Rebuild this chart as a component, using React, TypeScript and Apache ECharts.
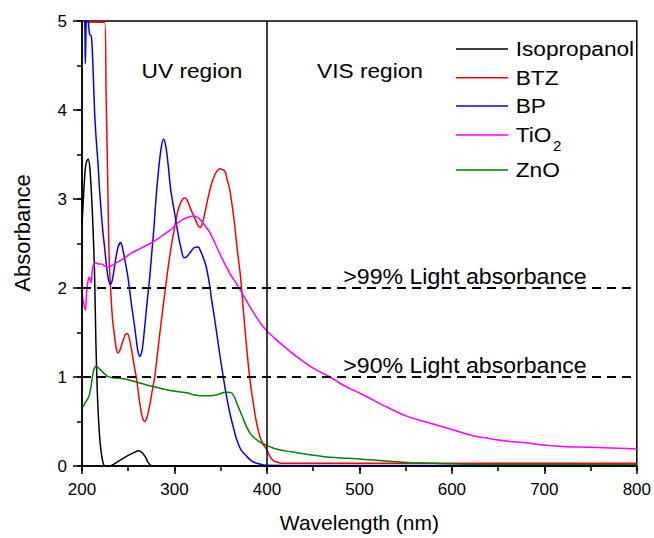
import React, { useEffect, useRef } from "react";
import * as echarts from "echarts";

const xTicks = [200, 300, 400, 500, 600, 700, 800];
const seriesNames = ["Isopropanol", "BTZ", "BP", "TiO2", "ZnO"];
const seriesColors = ["#000000", "#ff0000", "#0000ff", "#ff00ff", "#008000"];

const isopropanol: number[][] = [
  [200, 2.7], [202, 3.1], [204, 3.38], [206.5, 3.45], [208.5, 3.35], [210.5, 3.0], [212, 2.65],
  [213.5, 2.2], [215, 1.4], [216.5, 0.85], [218, 0.5], [220, 0.22], [222.5, 0.05], [225, 0.0],
  [230, 0.0], [236, 0.03], [242, 0.07], [250, 0.12], [256, 0.15], [261, 0.17], [265, 0.15],
  [268, 0.11], [271, 0.05], [274, 0.01], [280, 0.0], [300, 0.0], [400, 0.0], [800, 0.0],
];

const btz: number[][] = [
  [204.5, 4.985], [224.5, 4.985], [226, 4.2], [227.5, 3.4], [228.5, 2.75], [229.5, 2.3], [231, 1.98],
  [233, 1.65], [235.3, 1.45], [237, 1.32], [239, 1.27], [241, 1.3], [244, 1.4], [247, 1.48],
  [249, 1.49], [251, 1.44], [254, 1.28], [256.5, 1.12], [258.7, 1.0], [262, 0.74], [265, 0.56],
  [267.8, 0.5], [270, 0.54], [273, 0.67], [276, 0.85], [278.6, 1.0], [282, 1.3], [286, 1.65],
  [289.4, 1.93], [293, 2.22], [297, 2.5], [300.2, 2.68], [303, 2.84], [306, 2.94], [309, 3.0],
  [311.4, 3.01], [314, 2.98], [317, 2.9], [320.3, 2.82], [323, 2.76], [325.5, 2.7], [327.6, 2.68],
  [330, 2.72], [333, 2.85], [336, 3.0], [339, 3.13], [342, 3.23], [345, 3.3], [349.2, 3.34],
  [352, 3.33], [354.6, 3.31], [357, 3.22], [360, 3.09], [363, 2.88], [365.4, 2.68], [368, 2.42],
  [371, 2.17], [372.5, 2.0], [374.5, 1.75], [377, 1.45], [380, 1.12], [382.5, 0.9], [385.2, 0.71],
  [388.5, 0.5], [392.4, 0.33], [396, 0.24], [399.6, 0.19], [403, 0.11], [406.8, 0.06], [412, 0.04],
  [417.6, 0.03], [500, 0.03], [800, 0.03],
];

const bp: number[][] = [
  [201.5, 5.3], [203, 5.0], [203.6, 4.52], [204.5, 5.0], [205.5, 5.3], [207, 4.98], [208.3, 4.85],
  [210, 4.83], [211, 4.7], [211.9, 4.48], [213.7, 3.96], [215.5, 3.65], [217.3, 3.4], [219, 3.1],
  [220.9, 2.84], [222.7, 2.62], [224.5, 2.45], [226.5, 2.25], [228.5, 2.1], [230.6, 2.04],
  [233, 2.1], [236, 2.3], [239, 2.46], [241.8, 2.51], [244, 2.44], [247, 2.28], [249.7, 2.12],
  [253, 1.85], [257, 1.56], [260, 1.32], [262.4, 1.23], [265, 1.3], [267.8, 1.56], [270.5, 1.85],
  [273.2, 2.12], [275.5, 2.4], [277.8, 2.68], [280, 3.0], [283, 3.35], [286, 3.6], [288.3, 3.67],
  [290.5, 3.6], [293, 3.4], [296, 3.1], [300.2, 2.84], [304, 2.6], [307, 2.45], [310.3, 2.34],
  [313, 2.35], [317, 2.4], [321, 2.45], [325.8, 2.46], [328, 2.42], [331.2, 2.34], [334, 2.25],
  [336.6, 2.12], [338.5, 2.0], [340, 1.88], [343, 1.68], [346, 1.47], [349, 1.25], [352.8, 1.0],
  [356, 0.8], [360, 0.59], [364, 0.42], [367.2, 0.3], [372, 0.18], [378, 0.11], [383, 0.06],
  [388.8, 0.03], [395, 0.015], [400, 0.008], [450, 0.005], [800, 0.005],
];

const tio2: number[][] = [
  [200, 1.93], [201.5, 1.85], [203.6, 1.75], [205, 1.95], [206.5, 2.08], [208, 2.12], [209.8, 2.06],
  [211, 2.18], [212.5, 2.26], [215.5, 2.28], [218, 2.27], [220.9, 2.27], [224, 2.25], [228.1, 2.24],
  [232, 2.25], [235.3, 2.27], [240, 2.3], [246.2, 2.34], [253, 2.39], [260.5, 2.43], [270, 2.48],
  [278.6, 2.53], [287, 2.59], [296.5, 2.66], [306, 2.75], [313, 2.79], [320.3, 2.81], [324, 2.8],
  [327.6, 2.77], [333, 2.7], [338.4, 2.62], [344, 2.5], [349.2, 2.38], [355, 2.26], [360, 2.16],
  [367, 2.05], [374.4, 1.92], [381, 1.8], [388.8, 1.67], [394, 1.59], [399.7, 1.52], [410, 1.42],
  [420, 1.33], [432, 1.23], [450, 1.1], [468, 1.0], [478.9, 0.93], [489.7, 0.87], [500, 0.82],
  [514.9, 0.74], [530, 0.66], [551, 0.56], [570, 0.5], [587, 0.45], [600, 0.41], [623, 0.34],
  [640, 0.31], [659, 0.28], [680, 0.26], [695, 0.24], [720, 0.22], [750, 0.21], [780, 0.2], [800, 0.19],
];

const zno: number[][] = [
  [200, 0.65], [202, 0.68], [204, 0.72], [206.5, 0.76], [208, 0.8], [209.5, 0.88], [211, 0.98],
  [212.5, 1.07], [214, 1.11], [215.5, 1.12], [217, 1.11], [219, 1.09], [221, 1.07], [224, 1.04],
  [227, 1.01], [231.7, 0.995], [240, 0.985], [249.7, 0.97], [260, 0.94], [270, 0.91], [278.6, 0.89],
  [290, 0.86], [300, 0.84], [314.6, 0.82], [320.3, 0.8], [330, 0.79], [338.4, 0.79], [346, 0.8],
  [350, 0.815], [354.6, 0.83], [358, 0.83], [361.8, 0.82], [365, 0.77], [368, 0.69], [370.8, 0.62],
  [374.4, 0.53], [378, 0.44], [381.6, 0.37], [386, 0.32], [391, 0.28], [396, 0.25], [400, 0.23],
  [410, 0.19], [420, 0.17], [432, 0.15], [450, 0.12], [464.5, 0.1], [480, 0.09], [500, 0.08],
  [525, 0.06], [551, 0.04], [580, 0.03], [623, 0.02], [700, 0.017], [800, 0.015],
];

const seriesData = [isopropanol, btz, bp, tio2, zno];
const thresholdLevels = [2, 1];
const thresholdLabels = [">99% Light absorbance", ">90% Light absorbance"];
const regionBoundary = 400;
const regionLabels = ["UV region", "VIS region"];

const FONT = "'Liberation Sans', Arial, Helvetica, sans-serif";

export default function App() {
  const ref = useRef<HTMLDivElement>(null);

  useEffect(() => {
    if (!ref.current) return;
    const chart = echarts.init(ref.current, null, { renderer: "svg" });

    const legendRows = [49, 77.7, 106, 135, 170];
    const legendGraphics: any[] = [];
    seriesNames.forEach((name, i) => {
      legendGraphics.push({
        type: "line",
        shape: { x1: 456, y1: legendRows[i], x2: 508, y2: legendRows[i] },
        style: { stroke: seriesColors[i], lineWidth: 1.5 },
        silent: true,
      });
      if (name === "TiO2") {
        legendGraphics.push({
          type: "text", x: 515.7, y: legendRows[i], scaleX: 1.08,
          style: { text: "TiO", fontSize: 21, fontFamily: FONT, fill: "#000", align: "left", verticalAlign: "middle" },
        });
        legendGraphics.push({
          type: "text", x: 553, y: legendRows[i] + 11, scaleX: 1.08,
          style: { text: "2", fontSize: 14, fontFamily: FONT, fill: "#000", align: "left", verticalAlign: "middle" },
        });
      } else {
        legendGraphics.push({
          type: "text", x: 515.7, y: legendRows[i], scaleX: 1.08,
          style: { text: name, fontSize: 21, fontFamily: FONT, fill: "#000", align: "left", verticalAlign: "middle" },
        });
      }
    });

    const axisLineStyle = { color: "#000", width: 1.5 };

    const option: any = {
      animation: false,
      backgroundColor: "#ffffff",
      grid: { left: 82, right: 17, top: 21, bottom: 68, show: true, borderColor: "#000", borderWidth: 1.5, containLabel: false },
      legend: { show: false },
      xAxis: [
        {
          type: "value", min: 200, max: 800, interval: 100,
          name: "Wavelength (nm)", nameLocation: "middle", nameGap: 46,
          nameTextStyle: { fontSize: 21, fontFamily: FONT, color: "#000" },
          axisLine: { show: true, onZero: false, lineStyle: axisLineStyle },
          axisTick: { show: true, inside: false, length: 8, lineStyle: axisLineStyle },
          splitLine: { show: false },
          axisLabel: { fontSize: 17, fontFamily: FONT, color: "#000", margin: 15, customValues: xTicks },
          z: 5,
        },
        {
          type: "value", min: 200, max: 800, interval: 50, position: "bottom",
          axisLine: { show: false },
          axisTick: { show: true, inside: false, length: 5, lineStyle: axisLineStyle },
          axisLabel: { show: false },
          splitLine: { show: false },
        },
      ],
      yAxis: [
        {
          type: "value", min: 0, max: 5, interval: 1,
          axisLine: { show: true, onZero: false, lineStyle: axisLineStyle },
          axisTick: { show: true, inside: false, length: 9, lineStyle: axisLineStyle },
          splitLine: { show: false },
          axisLabel: { fontSize: 17, fontFamily: FONT, color: "#000", margin: 15 },
          z: 5,
        },
        {
          type: "value", min: 0, max: 5, interval: 0.5, position: "left",
          axisLine: { show: false },
          axisTick: { show: true, inside: false, length: 5, lineStyle: axisLineStyle },
          axisLabel: { show: false },
          splitLine: { show: false },
        },
      ],
      series: [
        ...seriesNames.map((name, i) => ({
          name, type: "line", data: seriesData[i], showSymbol: false, symbol: "none",
          smooth: 0.3, clip: true, z: 3,
          lineStyle: { color: seriesColors[i], width: 1.5 },
        })),
        {
          name: "guides", type: "line", data: [], symbol: "none", silent: true, z: 4,
          markLine: {
            silent: true, symbol: ["none", "none"], label: { show: false }, animation: false,
            data: [
              { xAxis: regionBoundary, lineStyle: { type: "solid", color: "#000", width: 1.5 } },
              ...thresholdLevels.map((v) => ({ yAxis: v, lineStyle: { type: [9, 6], color: "#000", width: 1.8 } })),
            ],
          },
        },
      ],
      graphic: [
        { type: "text", x: 192, y: 71, scaleX: 1.08, style: { text: regionLabels[0], fontSize: 21, fontFamily: FONT, fill: "#000", align: "center", verticalAlign: "middle" } },
        { type: "text", x: 370, y: 71, scaleX: 1.08, style: { text: regionLabels[1], fontSize: 21, fontFamily: FONT, fill: "#000", align: "center", verticalAlign: "middle" } },
        { type: "text", x: 465, y: 277, scaleX: 1.05, style: { text: thresholdLabels[0], fontSize: 22, fontFamily: FONT, fill: "#000", align: "center", verticalAlign: "middle" } },
        { type: "text", x: 465, y: 366, scaleX: 1.05, style: { text: thresholdLabels[1], fontSize: 22, fontFamily: FONT, fill: "#000", align: "center", verticalAlign: "middle" } },
        { type: "text", x: 22, y: 233, rotation: Math.PI / 2, style: { text: "Absorbance", fontSize: 22, fontFamily: FONT, fill: "#000", align: "center", verticalAlign: "middle" } },
        ...legendGraphics,
      ],
    };

    chart.setOption(option);
    return () => chart.dispose();
  }, []);

  return (
    <div
      ref={ref}
      style={{ position: "fixed", left: 0, top: 0, width: 654, height: 538, background: "#fff" }}
    />
  );
}
